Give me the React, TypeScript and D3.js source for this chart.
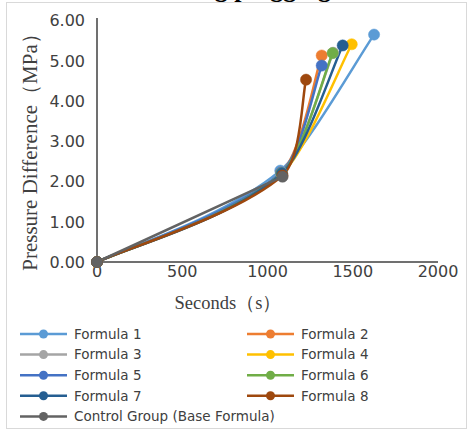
import React from "react";
import * as d3 from "d3";

const seriesNames = [
  "Formula 1",
  "Formula 2",
  "Formula 3",
  "Formula 4",
  "Formula 5",
  "Formula 6",
  "Formula 7",
  "Formula 8",
  "Control Group (Base Formula)",
];
const seriesColors = [
  "#5B9BD5",
  "#ED7D31",
  "#A5A5A5",
  "#FFC000",
  "#4472C4",
  "#70AD47",
  "#255E91",
  "#9E480E",
  "#636363",
];
// seconds for each series' points
const seriesSeconds: number[][] = [
  [0, 1075, 1625],
  [0, 1080, 1318],
  [0, 1080, 1385],
  [0, 1085, 1494],
  [0, 1080, 1318],
  [0, 1082, 1382],
  [0, 1085, 1441],
  [0, 1088, 1226],
  [0, 1088],
];
// pressure difference (MPa)
const seriesPressure: number[][] = [
  [0, 2.27, 5.65],
  [0, 2.22, 5.13],
  [0, 2.2, 5.2],
  [0, 2.2, 5.41],
  [0, 2.22, 4.88],
  [0, 2.2, 5.19],
  [0, 2.2, 5.38],
  [0, 2.15, 4.53],
  [0, 2.12],
];
const xTicks = [0, 500, 1000, 1500, 2000];
const yTicks = [0, 1, 2, 3, 4, 5, 6];

// Excel-like smoothed path through pixel points
function smoothPath(p: [number, number][]): string {
  if (p.length < 2) return "";
  if (p.length === 2) return `M${p[0][0]},${p[0][1]}L${p[1][0]},${p[1][1]}`;
  const path = d3.path();
  path.moveTo(p[0][0], p[0][1]);
  const before = 0.22;
  const after = 0.09;
  for (let i = 0; i < p.length - 1; i++) {
    const a = p[i];
    const b = p[i + 1];
    let c1: [number, number];
    let c2: [number, number];
    if (i === 0) {
      c1 = [a[0] + (b[0] - a[0]) / 6, a[1] + (b[1] - a[1]) / 6];
    } else {
      const pr = p[i - 1];
      c1 = [a[0] + (b[0] - pr[0]) * after, a[1] + (b[1] - pr[1]) * after];
    }
    if (i + 2 >= p.length) {
      c2 = [b[0] - (b[0] - a[0]) / 6, b[1] - (b[1] - a[1]) / 6];
    } else {
      const nx = p[i + 2];
      c2 = [b[0] - (nx[0] - a[0]) * before, b[1] - (nx[1] - a[1]) * before];
    }
    path.bezierCurveTo(c1[0], c1[1], c2[0], c2[1], b[0], b[1]);
  }
  return path.toString();
}

export default function App() {
  const W = 469;
  const H = 430;
  const x = d3.scaleLinear().domain([0, 2000]).range([97, 438]);
  const y = d3.scaleLinear().domain([0, 6]).range([262, 20.5]);

  const data = seriesNames.map((name, i) => ({
    name,
    color: seriesColors[i],
    pts: seriesSeconds[i].map((s, j) => [s, seriesPressure[i][j]] as [number, number]),
  }));

  const sans = "'DejaVu Sans', sans-serif";
  const serif = "'Liberation Serif', 'Times New Roman', serif";

  const legendRowY = [334, 354.6, 375.2, 395.8, 416.4];
  const legendColX = [20, 247];

  return (
    <svg
      width={W}
      height={H}
      style={{ position: "absolute", left: 0, top: 0, background: "#fff" }}
    >
      <rect x={0} y={0} width={W} height={H} fill="#fff" />
      <text
        x={331}
        y={-3.5}
        textAnchor="end"
        fontFamily={serif}
        fontWeight="bold"
        fontSize={26}
        fill="#000"
      >
        Pressure difference during plugging
      </text>
      <rect x={6.5} y={2.5} width={460} height={426} fill="none" stroke="#d9d9d9" strokeWidth={1} />

      {/* axes */}
      <line x1={x(0)} x2={x(2000)} y1={y(0)} y2={y(0)} stroke="#404040" strokeWidth={1.5} />
      <line x1={x(0)} x2={x(0)} y1={y(0)} y2={18} stroke="#404040" strokeWidth={1.5} />

      {yTicks.map((t) => (
        <text
          key={"y" + t}
          x={85}
          y={y(t)}
          dy="0.36em"
          textAnchor="end"
          fontFamily={sans}
          fontSize={16}
          fill="#404040"
        >
          {d3.format(".2f")(t)}
        </text>
      ))}
      {xTicks.map((t) => (
        <text
          key={"x" + t}
          x={x(t)}
          y={277}
          textAnchor="middle"
          fontFamily={sans}
          fontSize={16}
          fill="#404040"
        >
          {t}
        </text>
      ))}

      <text
        transform={`translate(37,147) rotate(-90)`}
        textAnchor="middle"
        fontFamily={serif}
        fontSize={21}
        fill="#404040"
      >
        Pressure Difference（MPa）
      </text>
      <text x={228} y={309} textAnchor="middle" fontFamily={serif} fontSize={18.5} fill="#404040">
        Seconds（s）
      </text>

      {/* series */}
      {data.map((s) => (
        <path
          key={s.name}
          d={smoothPath(s.pts.map((p) => [x(p[0]), y(p[1])] as [number, number]))}
          fill="none"
          stroke={s.color}
          strokeWidth={2.5}
          strokeLinecap="round"
        />
      ))}
      {data.map((s) => (
        <g key={s.name + "m"}>
          {s.pts.map((p, j) => (
            <circle key={j} cx={x(p[0])} cy={y(p[1])} r={5.6} fill={s.color} stroke={s.color} strokeWidth={0.5} />
          ))}
        </g>
      ))}

      {/* legend */}
      {data.map((s, i) => {
        const row = i === 8 ? 4 : Math.floor(i / 2);
        const col = i === 8 ? 0 : i % 2;
        const lx = legendColX[col];
        const ly = legendRowY[row];
        return (
          <g key={s.name + "l"}>
            <line x1={lx} x2={lx + 47} y1={ly} y2={ly} stroke={s.color} strokeWidth={2.5} />
            <circle cx={lx + 23.5} cy={ly} r={4.5} fill={s.color} />
            <text x={lx + 54} y={ly} dy="0.35em" fontFamily={sans} fontSize={13.5} fill="#404040">
              {s.name}
            </text>
          </g>
        );
      })}
    </svg>
  );
}
